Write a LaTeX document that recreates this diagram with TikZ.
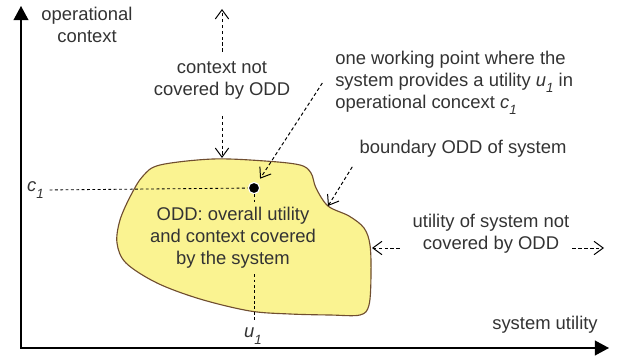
\documentclass[tikz,border=0pt]{standalone}
\usepackage{fontspec}
\setmainfont{Liberation Sans}
\usetikzlibrary{arrows.meta, positioning}
\definecolor{oddyellow}{RGB}{250,243,145}
\definecolor{oddbrown}{RGB}{112,78,48}
\definecolor{labelgray}{RGB}{51,51,51}
\newcommand{\subOne}{\raisebox{-4.5pt}{\fontsize{9.5}{10}\selectfont\itshape 1}}
\newcommand{\uOne}{\textit{u}\subOne}
\newcommand{\cOne}{\textit{c}\subOne}
\tikzset{
axis/.style={line width=1pt, line cap=rect, -{Triangle[length=10pt,width=10.5pt]}}, % the two axes
hint/.style={line width=0.7pt, dash pattern=on 2.4pt off 1.8pt, -{Straight Barb[length=6.5pt,width=9.5pt]}}, % dashed pointers
guide/.style={line width=0.6pt, dash pattern=on 2pt off 1.8pt}, % lines to the axes
lbl/.style={font=\fontsize{13.1}{15.6}\selectfont, text=labelgray, inner sep=0pt}, % all texts
oddblob/.style={fill=oddyellow, draw=oddbrown, line width=0.8pt}, % the ODD region
dot/.style={circle, fill=black, draw=white, line width=0.8pt, minimum size=8pt, inner sep=0pt},
}

\begin{document}
\begin{tikzpicture}[x=0.025cm, y=-0.025cm]
  \useasboundingbox (0,0) rectangle (623,360);

  % axes
  \coordinate (origin) at (21,348);
  \coordinate (ytip) at (21,6);
  \coordinate (xtip) at (609,348);
  \draw[axis] (origin) -- (ytip);
  \draw[axis] (origin) -- (xtip);

  % ODD region
  \draw[oddblob] plot[smooth cycle, tension=0.55] coordinates {
    (160,165) (213,159) (265,161) (300,165) (311,173) (316,188) (328,206)
    (349,216) (364,228) (370,245) (371,275) (369,305) (360,315) (330,315)
    (290,314) (250,311) (200,299) (157,283) (126,263) (117,243) (120,220)
    (131,195) (143,176)};
  \coordinate (blobtop) at (222,158);
  \coordinate (notch) at (328,206);
  \coordinate (edgeR) at (372,248);

  % labels
  \node[lbl, align=center] (opctx) at (87,25) {operational\\context};
  \node[lbl, align=center] (ctx) at (222,80) {context not\\covered by ODD};
  \node[lbl, align=left, anchor=west] (wp) at (335,83) {one working point where the\\system provides a utility \uOne\ in\\operational concext \cOne};
  \node[lbl] (bnd) at (463,149) {boundary ODD of system};
  \node[lbl, align=center] (unc) at (491,234) {utility of system not\\covered by ODD};
  \node[lbl] (sysu) at (545,325) {system utility};
  \node[lbl, anchor=east] (c1) at (44,190) {\cOne};
  \node[lbl] (u1) at (253,336) {\uOne};
  \node[dot] (pt) at (254,188) {};

  % working point to the axes
  \draw[guide, shorten <=4pt] (c1.east) -- (pt);
  \draw[guide, shorten >=4pt] (pt) -- (pt |- u1.north);
  \node[lbl, fill=oddyellow, align=center, inner sep=3pt] (odd) at (233,238) {ODD: overall utility\\and context covered\\by the system};

  % pointers
  \coordinate (ctxtop) at (222,9);
  \coordinate (uncend) at (604,248);
  \draw[hint, shorten <=6.5pt] (ctx.north) -- (ctxtop);
  \draw[hint, shorten <=12pt] (ctx.south) -- (blobtop);
  \draw[hint, shorten >=3.5pt] ([xshift=-9pt]wp.west) -- (pt);
  \draw[hint] ([xshift=-5pt,yshift=-6.4pt]bnd.south west) -- (notch);
  \draw[hint, shorten <=9pt] (unc.west |- edgeR) -- (edgeR);
  \draw[hint, shorten <=2pt] (unc.east |- edgeR) -- (uncend);
\end{tikzpicture}
\end{document}
